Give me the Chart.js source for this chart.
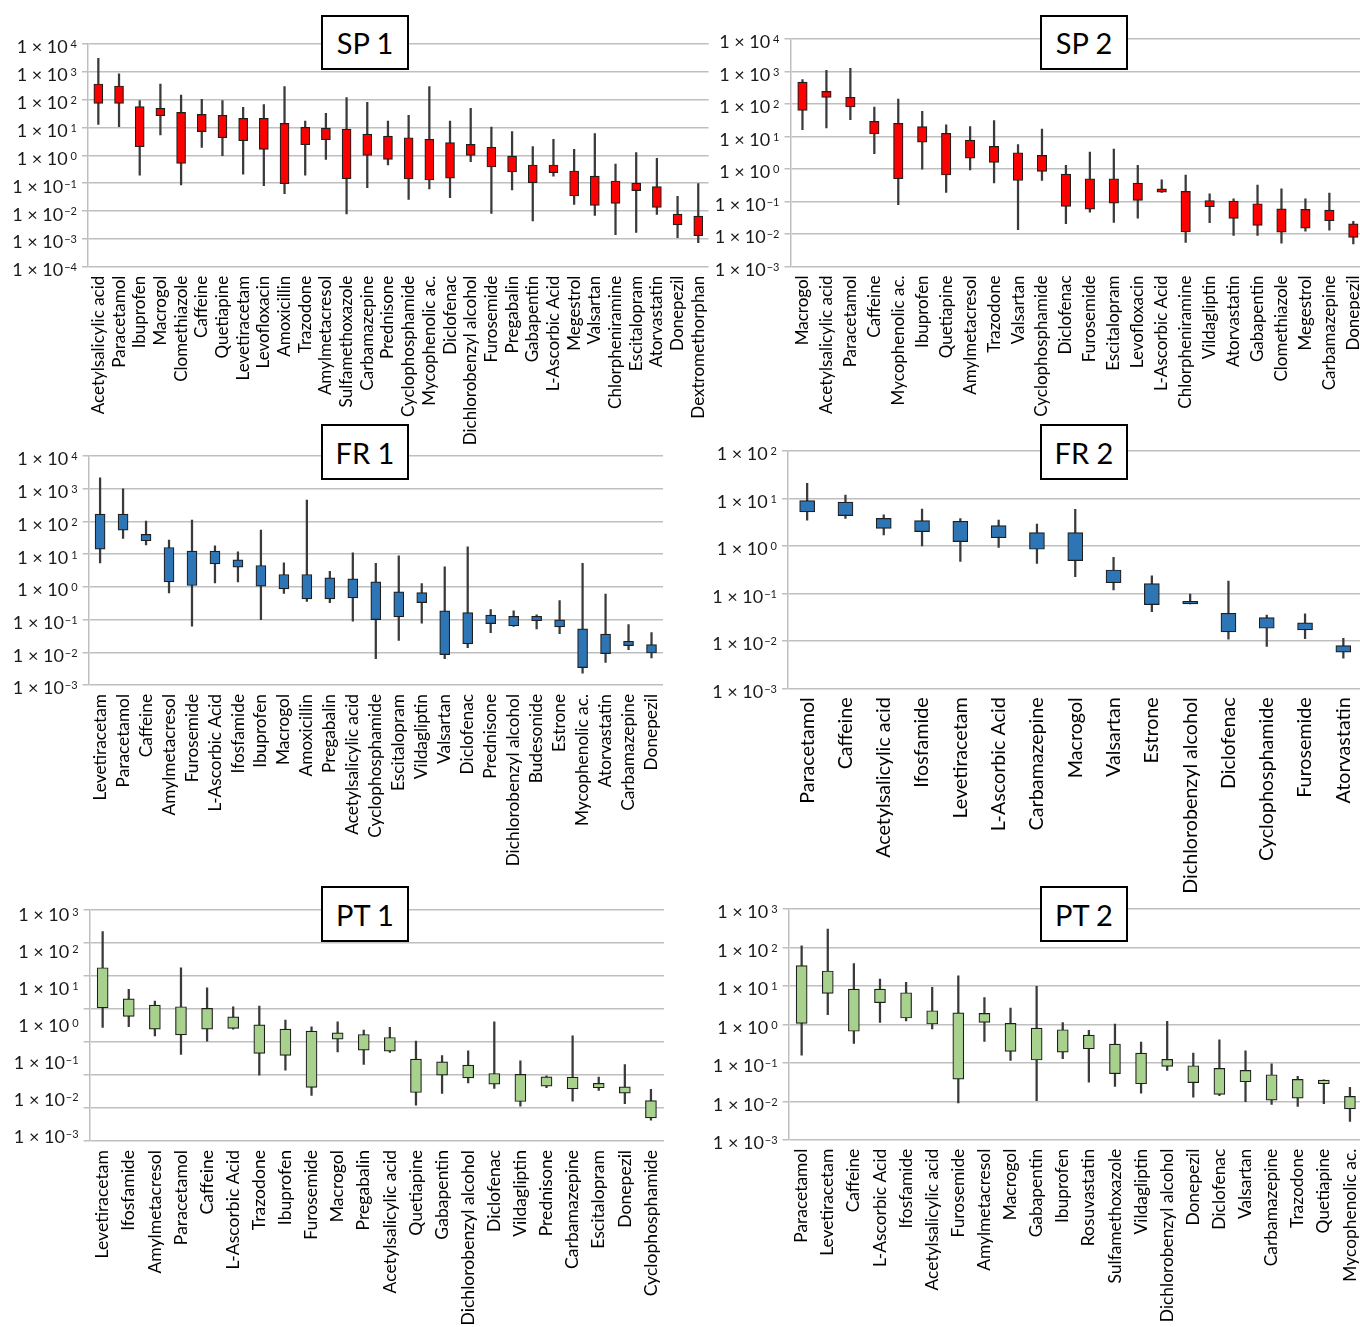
<!DOCTYPE html>
<html>
<head>
<meta charset="utf-8">
<script src="https://cdn.jsdelivr.net/npm/chart.js@4.4.1/dist/chart.umd.min.js"></script>
<style>
  html, body { margin: 0; padding: 0; background: #fff; width: 1360px; height: 1327px; overflow: hidden; position: relative; }
  canvas { position: absolute; }
  .tag { position: absolute; box-sizing: border-box; border: 2px solid #000; background: #fff; color: #000;
         font-family: Lato, "Open Sans", sans-serif; font-size: 29px; display: flex; align-items: center; justify-content: center; }
</style>
</head>
<body>
<script>
// ---------- SP 1 ----------
const sp1Labels = ['Acetylsalicylic acid','Paracetamol','Ibuprofen','Macrogol','Clomethiazole','Caffeine','Quetiapine','Levetiracetam','Levofloxacin','Amoxicillin','Trazodone','Amylmetacresol','Sulfamethoxazole','Carbamazepine','Prednisone','Cyclophosphamide','Mycophenolic ac.','Diclofenac','Dichlorobenzyl alcohol','Furosemide','Pregabalin','Gabapentin','L-Ascorbic Acid','Megestrol','Valsartan','Chlorpheniramine','Escitalopram','Atorvastatin','Donepezil','Dextromethorphan'];
const sp1Max = [3050, 840, 92, 366, 147, 103, 92, 53, 66, 293, 17.1, 32, 118, 80, 17.1, 27.4, 293, 17.1, 49, 10.4, 7.1, 2.05, 3.76, 1.64, 6.0, 0.49, 1.25, 0.78, 0.034, 0.096];
const sp1Q3  = [366, 310, 56, 49, 35, 29.7, 27.4, 21.3, 21.3, 14.1, 10.1, 9.6, 8.8, 5.84, 4.95, 4.3, 3.76, 2.85, 2.48, 1.94, 0.946, 0.45, 0.45, 0.274, 0.18, 0.12, 0.101, 0.075, 0.0078, 0.0066];
const sp1Q1  = [73.8, 73.8, 2.05, 26.6, 0.516, 7.1, 4.3, 3.37, 1.64, 0.096, 2.42, 3.66, 0.145, 1.0, 0.72, 0.141, 0.13, 0.153, 1.0, 0.381, 0.252, 0.104, 0.238, 0.0346, 0.016, 0.0188, 0.054, 0.0135, 0.0032, 0.0013];
const sp1Min = [13, 10.7, 0.196, 5.4, 0.086, 1.94, 0.97, 0.213, 0.081, 0.042, 0.196, 0.72, 0.0078, 0.069, 0.45, 0.026, 0.062, 0.030, 0.59, 0.0082, 0.057, 0.0044, 0.18, 0.0174, 0.007, 0.0014, 0.0017, 0.0076, 0.0011, 0.00073];

// ---------- SP 2 ----------
const sp2Labels = ['Macrogol','Acetylsalicylic acid','Paracetamol','Caffeine','Mycophenolic ac.','Ibuprofen','Quetiapine','Amylmetacresol','Trazodone','Valsartan','Cyclophosphamide','Diclofenac','Furosemide','Escitalopram','Levofloxacin','L-Ascorbic Acid','Chlorpheniramine','Vildagliptin','Atorvastatin','Gabapentin','Clomethiazole','Megestrol','Carbamazepine','Donepezil'];
const sp2Max = [559, 1084, 1250, 80.5, 142, 59, 23, 20, 31, 5.6, 16.9, 1.29, 3.3, 4.1, 1.29, 0.465, 0.65, 0.172, 0.121, 0.32, 0.245, 0.121, 0.18, 0.0242];
const sp2Q3  = [474, 244, 160, 29.1, 25.3, 20, 12.4, 7.7, 4.94, 3.15, 2.61, 0.695, 0.5, 0.5, 0.367, 0.245, 0.203, 0.107, 0.102, 0.085, 0.059, 0.057, 0.054, 0.0205];
const sp2Q1  = [63.5, 160, 80.5, 11.9, 0.5, 6.7, 0.65, 2.16, 1.59, 0.44, 0.84, 0.070, 0.058, 0.089, 0.107, 0.194, 0.0116, 0.0685, 0.030, 0.0182, 0.0114, 0.0151, 0.0254, 0.0078];
const sp2Min = [16.1, 18.2, 32.7, 2.94, 0.079, 0.99, 0.19, 0.94, 0.37, 0.0134, 0.44, 0.0205, 0.047, 0.0225, 0.0307, 0.19, 0.0055, 0.022, 0.009, 0.009, 0.0052, 0.0122, 0.0131, 0.0049];

// ---------- FR 1 ----------
const fr1Labels = ['Levetiracetam','Paracetamol','Caffeine','Amylmetacresol','Furosemide','L-Ascorbic Acid','Ifosfamide','Ibuprofen','Macrogol','Amoxicillin','Pregabalin','Acetylsalicylic acid','Cyclophosphamide','Escitalopram','Vildagliptin','Valsartan','Diclofenac','Prednisone','Dichlorobenzyl alcohol','Budesonide','Estrone','Mycophenolic ac.','Atorvastatin','Carbamazepine','Donepezil'];
const fr1Max = [2170, 1000, 102, 26.8, 110, 18, 11.8, 54, 5.4, 450, 3.0, 11, 5.2, 8.9, 1.26, 4.1, 16.7, 0.202, 0.184, 0.139, 0.38, 5.2, 0.6, 0.070, 0.04];
const fr1Q3  = [168, 168, 40, 16, 12.4, 12.4, 6.7, 4.5, 2.39, 2.39, 1.89, 1.76, 1.42, 0.70, 0.67, 0.184, 0.164, 0.136, 0.126, 0.126, 0.098, 0.052, 0.036, 0.0217, 0.0172];
const fr1Q1  = [14.2, 54, 25.6, 1.42, 1.1, 5.06, 4.0, 1.05, 0.87, 0.43, 0.43, 0.46, 0.1, 0.12, 0.33, 0.0085, 0.018, 0.0755, 0.064, 0.093, 0.06, 0.0034, 0.0091, 0.016, 0.0095];
const fr1Min = [5.4, 30, 19.3, 0.65, 0.0625, 1.32, 1.42, 0.1, 0.625, 0.356, 0.33, 0.089, 0.0064, 0.023, 0.077, 0.0064, 0.0139, 0.04, 0.062, 0.052, 0.037, 0.0023, 0.0049, 0.0121, 0.0067];

// ---------- FR 2 ----------
const fr2Labels = ['Paracetamol','Caffeine','Acetylsalicylic acid','Ifosfamide','Levetiracetam','L-Ascorbic Acid','Carbamazepine','Macrogol','Valsartan','Estrone','Dichlorobenzyl alcohol','Diclofenac','Cyclophosphamide','Furosemide','Atorvastatin'];
const fr2Max = [20.8, 11.8, 4.5, 6.0, 3.75, 3.5, 2.9, 5.9, 0.575, 0.233, 0.097, 0.182, 0.035, 0.037, 0.0113];
const fr2Q3  = [9.0, 8.4, 3.8, 3.4, 3.3, 2.67, 1.9, 1.9, 0.311, 0.16, 0.068, 0.038, 0.031, 0.024, 0.0079];
const fr2Q1  = [5.2, 4.35, 2.35, 2.0, 1.23, 1.49, 0.85, 0.49, 0.168, 0.058, 0.06, 0.0154, 0.0184, 0.017, 0.0058];
const fr2Min = [3.5, 3.8, 1.7, 1.0, 0.47, 0.93, 0.43, 0.225, 0.118, 0.041, 0.06, 0.0108, 0.0076, 0.0111, 0.0043];

// ---------- PT 1 ----------
const pt1Labels = ['Levetiracetam','Ifosfamide','Amylmetacresol','Paracetamol','Caffeine','L-Ascorbic Acid','Trazodone','Ibuprofen','Furosemide','Macrogol','Pregabalin','Acetylsalicylic acid','Quetiapine','Gabapentin','Dichlorobenzyl alcohol','Diclofenac','Vildagliptin','Prednisone','Carbamazepine','Escitalopram','Donepezil','Cyclophosphamide'];
const pt1Max = [220, 3.93, 1.74, 17.8, 4.4, 1.17, 1.22, 0.46, 0.289, 0.41, 0.229, 0.276, 0.106, 0.039, 0.054, 0.41, 0.0269, 0.0094, 0.154, 0.0086, 0.0208, 0.0037];
const pt1Q3  = [17.8, 2.04, 1.31, 1.17, 1.04, 0.58, 0.333, 0.245, 0.214, 0.19, 0.169, 0.137, 0.0302, 0.0251, 0.0199, 0.0111, 0.0104, 0.0088, 0.0086, 0.0056, 0.0044, 0.00168];
const pt1Q1  = [1.09, 0.594, 0.245, 0.165, 0.245, 0.258, 0.0449, 0.039, 0.0042, 0.122, 0.0566, 0.0528, 0.00294, 0.0099, 0.0082, 0.0053, 0.00157, 0.0046, 0.0038, 0.0041, 0.0028, 0.0005];
const pt1Min = [0.276, 0.289, 0.154, 0.042, 0.106, 0.245, 0.0099, 0.014, 0.0024, 0.050, 0.0208, 0.0482, 0.00122, 0.00275, 0.0058, 0.0039, 0.00114, 0.0041, 0.0016, 0.0034, 0.00136, 0.00043];

// ---------- PT 2 ----------
const pt2Labels = ['Paracetamol','Levetiracetam','Caffeine','L-Ascorbic Acid','Ifosfamide','Acetylsalicylic acid','Furosemide','Amylmetacresol','Macrogol','Gabapentin','Ibuprofen','Rosuvastatin','Sulfamethoxazole','Vildagliptin','Dichlorobenzyl alcohol','Donepezil','Diclofenac','Valsartan','Carbamazepine','Trazodone','Quetiapine','Mycophenolic ac.'];
const pt2Max = [111, 302, 37.8, 15.1, 12.4, 9.2, 18.4, 5.0, 2.65, 9.7, 1.12, 0.697, 1.02, 0.346, 1.19, 0.179, 0.398, 0.206, 0.0946, 0.0443, 0.0362, 0.0229];
const pt2Q3  = [33.6, 24.4, 8.3, 8.3, 6.65, 2.26, 2.0, 1.93, 1.06, 0.8, 0.725, 0.527, 0.307, 0.179, 0.123, 0.084, 0.0714, 0.0634, 0.049, 0.037, 0.0356, 0.0134];
const pt2Q1  = [1.06, 6.4, 0.66, 3.66, 1.46, 1.02, 0.0378, 1.12, 0.198, 0.118, 0.19, 0.232, 0.052, 0.0285, 0.0805, 0.0303, 0.0151, 0.0321, 0.0107, 0.0121, 0.0285, 0.0063];
const pt2Min = [0.159, 1.78, 0.32, 1.12, 1.22, 0.755, 0.009, 0.36, 0.115, 0.0103, 0.128, 0.0315, 0.0243, 0.0163, 0.0634, 0.0128, 0.0139, 0.0097, 0.0083, 0.0073, 0.0086, 0.003];

// Decade exponents that carry a "1 × 10^n" label on each value axis (top to bottom)
const sp1Exps = [4, 3, 2, 1, 0, -1, -2, -3, -4];
const sp2Exps = [4, 3, 2, 1, 0, -1, -2, -3];
const fr1Exps = [4, 3, 2, 1, 0, -1, -2, -3];
const fr2Exps = [2, 1, 0, -1, -2, -3];
const pt1Exps = [3, 2, 1, 0, -1, -2, -3];
const pt2Exps = [3, 2, 1, 0, -1, -2, -3];

const FONT = 'Lato, "Open Sans", sans-serif';
const GRID = '#bfbfbf';

// Draws "1 × 10" followed by a raised exponent, right-aligned at xr, centred on yc
function drawPow(ctx, xr, yc, e, fs) {
  const ss = Math.round(fs * 0.62);
  const base = '1 \u00d7 10';
  const exp = e < 0 ? '\u2212' + (-e) : String(e);
  ctx.save();
  ctx.fillStyle = '#1a1a1a';
  ctx.textAlign = 'left';
  ctx.textBaseline = 'alphabetic';
  ctx.font = ss + 'px ' + FONT;
  const ew = ctx.measureText(exp).width;
  ctx.font = fs + 'px ' + FONT;
  const bw = ctx.measureText(base).width;
  const gap = e < 0 ? 1 : 3;
  const x0 = xr - ew - gap - bw;
  const baseY = yc + fs * 0.36;
  ctx.fillText(base, x0, baseY);
  ctx.font = ss + 'px ' + FONT;
  ctx.fillText(exp, x0 + bw + gap, baseY - fs * 0.72 + ss * 0.72);
  ctx.restore();
}

const powLabels = {
  id: 'powLabels',
  afterDraw(chart, args, opts) {
    const ys = chart.scales.y;
    const area = chart.chartArea;
    const n = opts.exps.length;
    opts.exps.forEach((e, i) => {
      let py;
      if (opts.even) {
        py = area.top + 5 + i * (area.bottom - area.top - 9) / (n - 1);
      } else {
        py = ys.getPixelForValue(Math.pow(10, e)) + 3;
      }
      drawPow(chart.ctx, area.left - opts.gap, py, e, opts.size);
    });
  }
};

// Panel layout: plot rectangle [left, top, right, bottom] in page pixels
const panels = [
  { labels: sp1Labels, min: sp1Min, q1: sp1Q1, q3: sp1Q3, max: sp1Max, exps: sp1Exps, lo: -4, hi: 4,
    color: '#ff0000', rect: [88, 44, 708.6, 266.7], x0: 0, xh: 192, font: 17, box: 9, tag: 'SP 1', tagBox: [321, 15, 88, 55] },
  { labels: sp2Labels, min: sp2Min, q1: sp2Q1, q3: sp2Q3, max: sp2Max, exps: sp2Exps, lo: -3, hi: 4,
    color: '#ff0000', rect: [790.5, 39.3, 1365.3, 266.7], x0: 700, xh: 185, font: 17, box: 9.5, tag: 'SP 2', tagBox: [1040, 15, 88, 55] },
  { labels: fr1Labels, min: fr1Min, q1: fr1Q1, q3: fr1Q3, max: fr1Max, exps: fr1Exps, lo: -3, hi: 4,
    color: '#2e75b6', rect: [88.6, 456, 663, 685], x0: 0, xh: 200, font: 17.3, box: 10, tag: 'FR 1', tagBox: [321, 424, 88, 56] },
  { labels: fr2Labels, min: fr2Min, q1: fr2Q1, q3: fr2Q3, max: fr2Max, exps: fr2Exps, lo: -3, hi: 2,
    color: '#2e75b6', rect: [788, 451, 1362.5, 688.3], x0: 700, xh: 230, font: 19.7, box: 15, tag: 'FR 2', tagBox: [1040, 424, 88, 56] },
  { labels: pt1Labels, min: pt1Min, q1: pt1Q1, q3: pt1Q3, max: pt1Max, exps: pt1Exps, lo: -4, hi: 3, even: true,
    color: '#a9d18e', rect: [89.6, 910, 664, 1141], x0: 0, xh: 186, font: 17.6, box: 11, tag: 'PT 1', tagBox: [321, 886, 88, 56] },
  { labels: pt2Labels, min: pt2Min, q1: pt2Q1, q3: pt2Q3, max: pt2Max, exps: pt2Exps, lo: -3, hi: 3,
    color: '#a9d18e', rect: [788.6, 909.3, 1363, 1140], x0: 700, xh: 187, font: 17.4, box: 11, tag: 'PT 2', tagBox: [1040, 886, 88, 56] }
];

const PAD_TOP = 10;

panels.forEach(p => {
  const [L, T, R, B] = p.rect;
  const canvas = document.createElement('canvas');
  const w = Math.ceil(R + 2 - p.x0);
  const h = Math.ceil(PAD_TOP + (B - T) + p.xh);
  const yw = L - p.x0;
  const padRight = w - (R - p.x0);
  const xh = h - PAD_TOP - (B - T);
  canvas.width = w;
  canvas.height = h;
  canvas.style.left = p.x0 + 'px';
  canvas.style.top = (T - PAD_TOP) + 'px';
  document.body.appendChild(canvas);

  const decades = [];
  for (let e = p.lo; e <= p.hi; e++) decades.push(Math.pow(10, e));

  new Chart(canvas, {
    type: 'bar',
    data: {
      labels: p.labels,
      datasets: [
        {
          // whiskers: full range of each compound
          data: p.labels.map((_, i) => [p.min[i], p.max[i]]),
          backgroundColor: '#3a3a3a',
          borderWidth: 0,
          barThickness: 1.6,
          grouped: false,
          order: 2
        },
        {
          // boxes: inter-quartile range
          data: p.labels.map((_, i) => [p.q1[i], p.q3[i]]),
          backgroundColor: p.color,
          borderColor: '#1f1f1f',
          borderWidth: 1.2,
          borderSkipped: false,
          barThickness: p.box,
          grouped: false,
          order: 1
        }
      ]
    },
    options: {
      responsive: false,
      animation: false,
      devicePixelRatio: 1,
      layout: { padding: { top: PAD_TOP, right: padRight, left: 0, bottom: 0 } },
      plugins: {
        legend: { display: false },
        tooltip: { enabled: false },
        powLabels: { exps: p.exps, even: !!p.even, gap: 11, size: 18 }
      },
      scales: {
        x: {
          offset: true,
          grid: { display: false, drawTicks: false },
          border: { display: false },
          ticks: {
            autoSkip: false, minRotation: 90, maxRotation: 90, padding: 9,
            color: '#000', font: { family: FONT, size: p.font }
          },
          afterFit(scale) { scale.height = xh; scale.paddingLeft = 0; scale.paddingRight = 0; }
        },
        y: {
          type: 'logarithmic',
          min: Math.pow(10, p.lo),
          max: Math.pow(10, p.hi),
          ticks: { display: false },
          grid: { color: GRID, lineWidth: 1.5, drawTicks: true, tickLength: 6 },
          border: { display: true, color: GRID, width: 1.5 },
          afterBuildTicks(scale) { scale.ticks = decades.map(v => ({ value: v })); },
          afterFit(scale) { scale.width = yw; scale.paddingTop = 0; scale.paddingBottom = 0; }
        }
      }
    },
    plugins: [powLabels]
  });

  const tag = document.createElement('div');
  tag.className = 'tag';
  tag.textContent = p.tag;
  tag.style.left = p.tagBox[0] + 'px';
  tag.style.top = p.tagBox[1] + 'px';
  tag.style.width = p.tagBox[2] + 'px';
  tag.style.height = p.tagBox[3] + 'px';
  document.body.appendChild(tag);
});
</script>
</body>
</html>
